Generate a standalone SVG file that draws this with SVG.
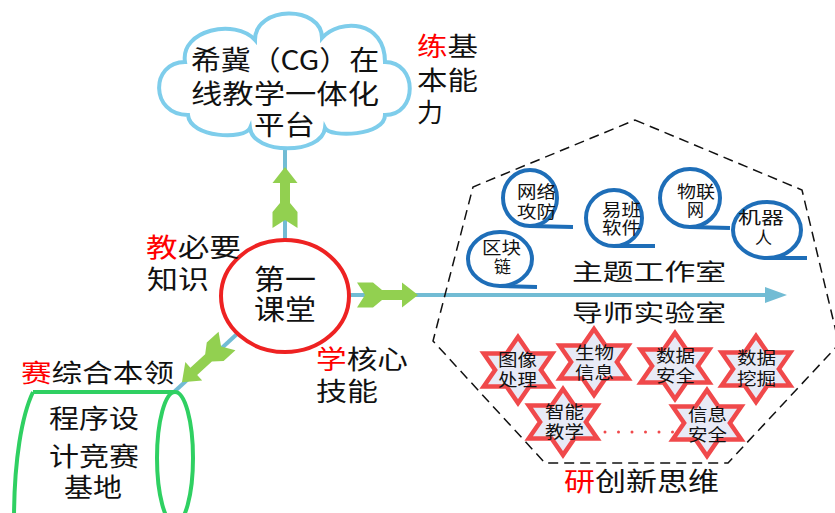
<svg xmlns="http://www.w3.org/2000/svg" xmlns:xlink="http://www.w3.org/1999/xlink" width="835" height="513" viewBox="0 0 835 513">
<defs>
<style>
text{font-family:"Noto Sans CJK SC","Noto Sans",sans-serif;fill:#111;}
.r{fill:#ff0000;}
.line{stroke:#72bcd4;stroke-width:4;fill:none;}
.garrow{fill:#92d050;}
.bub{fill:none;stroke:#1e6eb8;stroke-width:4;}
.star{fill:#e8eaf6;stroke:#f0494b;stroke-width:4.5;stroke-linejoin:miter;}
</style>
<polygon id="star" points="0,-33 11.4,-16.5 34.3,-16.5 22.9,0 34.3,16.5 11.4,16.5 0,33 -11.4,16.5 -34.3,16.5 -22.9,0 -34.3,-16.5 -11.4,-16.5"/>
<path id="ga" d="M61,0 L45,-12.5 L45,-5 L25,-5 L16,-12.5 L0,-12.5 L8,0 L0,12.5 L16,12.5 L25,5 L45,5 L45,12.5 Z"/>
</defs>
<rect width="835" height="513" fill="#ffffff"/>

<g id="connectors">
<line class="line" x1="285" y1="146" x2="285" y2="240"/>
<line class="line" x1="350" y1="295" x2="770" y2="295"/>
<polygon points="787,295 765,287 765,303" fill="#72bcd4"/>
<line class="line" x1="237" y1="334" x2="174" y2="392"/>
<use xlink:href="#ga" class="garrow" transform="translate(285,228) rotate(-90)"/>
<use xlink:href="#ga" class="garrow" transform="translate(357,295)"/>
<use xlink:href="#ga" class="garrow" transform="translate(227,341) rotate(137.6)"/>
<line x1="605" y1="432" x2="675" y2="432" stroke="#f0494b" stroke-width="3" stroke-linecap="round" stroke-dasharray="0 13.5"/>
</g>

<g id="zone">
<polygon points="635,120 802,190 839,344 728,463 545,463 433,341 473,187" fill="none" stroke="#111" stroke-width="1.5" stroke-dasharray="10 6"/>
</g>

<g id="cloud">
<path d="M185,62 C180,30 235,18 255,40 C255,5 322,5 322,38 C340,18 385,20 385,62 C418,62 418,115 385,115 C385,136 330,138 325,128 C322,155 253,155 250,128 C245,140 190,138 188,115 C150,115 150,62 185,62 Z" fill="#ffffff" stroke="#7ecdeb" stroke-width="4"/>
<text x="191" y="70" font-size="27" textLength="188" lengthAdjust="spacingAndGlyphs">希冀（CG）在</text>
<text x="191" y="104" font-size="27" textLength="188" lengthAdjust="spacingAndGlyphs">线教学一体化</text>
<text x="254" y="135" font-size="27" textLength="61" lengthAdjust="spacingAndGlyphs">平台</text>
</g>

<g id="label-lian">
<text x="417" y="56" font-size="26" textLength="61" lengthAdjust="spacingAndGlyphs"><tspan class="r">练</tspan>基</text>
<text x="417" y="90" font-size="26" textLength="61" lengthAdjust="spacingAndGlyphs">本能</text>
<text x="417" y="122" font-size="26">力</text>
</g>

<g id="center">
<ellipse cx="285" cy="296" rx="64" ry="56" fill="#ffffff" stroke="#ee2222" stroke-width="4"/>
<text x="254" y="290" font-size="28" textLength="62" lengthAdjust="spacingAndGlyphs">第一</text>
<text x="254" y="320" font-size="28" textLength="62" lengthAdjust="spacingAndGlyphs">课堂</text>
</g>

<g id="label-jiao">
<text x="146" y="257" font-size="26" textLength="95" lengthAdjust="spacingAndGlyphs"><tspan class="r">教</tspan>必要</text>
<text x="147" y="289" font-size="26" textLength="62" lengthAdjust="spacingAndGlyphs">知识</text>
</g>

<g id="label-xue">
<text x="316" y="369" font-size="26" textLength="92" lengthAdjust="spacingAndGlyphs"><tspan class="r">学</tspan>核心</text>
<text x="316" y="401" font-size="26" textLength="62" lengthAdjust="spacingAndGlyphs">技能</text>
</g>

<g id="label-sai">
<text x="21" y="382" font-size="25" textLength="153" lengthAdjust="spacingAndGlyphs"><tspan class="r">赛</tspan>综合本领</text>
</g>

<g id="barrel">
<path d="M33,392 C22,415 14,460 14,520" fill="none" stroke="#2fd062" stroke-width="4"/>
<line x1="33" y1="392" x2="175" y2="392" stroke="#2fd062" stroke-width="4"/>
<ellipse cx="175" cy="458" rx="18" ry="66" fill="none" stroke="#2fd062" stroke-width="4"/>
<text x="49" y="428" font-size="26" textLength="90" lengthAdjust="spacingAndGlyphs">程序设</text>
<text x="49" y="466" font-size="26" textLength="90" lengthAdjust="spacingAndGlyphs">计竞赛</text>
<text x="64" y="497" font-size="26" textLength="58" lengthAdjust="spacingAndGlyphs">基地</text>
</g>

<g id="b-wangluo">
<ellipse class="bub" cx="530" cy="198" rx="27" ry="28"/>
<line class="bub" x1="530" y1="226" x2="573" y2="227"/>
<text x="517" y="198" font-size="17" textLength="39" lengthAdjust="spacingAndGlyphs">网络</text>
<text x="517" y="218" font-size="17" textLength="39" lengthAdjust="spacingAndGlyphs">攻防</text>
</g>
<g id="b-qukuailian">
<ellipse class="bub" cx="500" cy="259" rx="32" ry="27"/>
<line class="bub" x1="500" y1="286" x2="537" y2="287"/>
<text x="482" y="254" font-size="17" textLength="39" lengthAdjust="spacingAndGlyphs">区块</text>
<text x="494" y="273" font-size="17">链</text>
</g>
<g id="b-yiban">
<ellipse class="bub" cx="614" cy="218" rx="28" ry="28"/>
<line class="bub" x1="614" y1="246" x2="655" y2="246"/>
<text x="602" y="216" font-size="17" textLength="39" lengthAdjust="spacingAndGlyphs">易班</text>
<text x="602" y="234" font-size="17" textLength="39" lengthAdjust="spacingAndGlyphs">软件</text>
</g>
<g id="b-wulianwang">
<ellipse class="bub" cx="690" cy="198" rx="30" ry="29"/>
<line class="bub" x1="690" y1="227" x2="730" y2="228"/>
<text x="677" y="198" font-size="17" textLength="38" lengthAdjust="spacingAndGlyphs">物联</text>
<text x="687" y="216" font-size="17">网</text>
</g>
<g id="b-jiqiren">
<ellipse class="bub" cx="767" cy="230" rx="34" ry="28"/>
<line class="bub" x1="767" y1="258" x2="807" y2="258"/>
<text x="738" y="224" font-size="17" textLength="46" lengthAdjust="spacingAndGlyphs">机器</text>
<text x="755" y="244" font-size="17">人</text>
</g>

<g id="titles">
<text x="572" y="280" font-size="23" textLength="154" lengthAdjust="spacingAndGlyphs">主题工作室</text>
<text x="572" y="321" font-size="23" textLength="154" lengthAdjust="spacingAndGlyphs">导师实验室</text>
<text x="564" y="491" font-size="26" textLength="155" lengthAdjust="spacingAndGlyphs"><tspan class="r">研</tspan>创新思维</text>
</g>

<g id="s-tuxiang">
<use xlink:href="#star" class="star" transform="translate(518,370)"/>
<text x="498" y="366" font-size="17" textLength="39" lengthAdjust="spacingAndGlyphs">图像</text>
<text x="498" y="386" font-size="17" textLength="39" lengthAdjust="spacingAndGlyphs">处理</text>
</g>
<g id="s-shengwu">
<use xlink:href="#star" class="star" transform="translate(594,362)"/>
<text x="575" y="359" font-size="17" textLength="39" lengthAdjust="spacingAndGlyphs">生物</text>
<text x="575" y="379" font-size="17" textLength="39" lengthAdjust="spacingAndGlyphs">信息</text>
</g>
<g id="s-shujuanquan">
<use xlink:href="#star" class="star" transform="translate(675,366)"/>
<text x="656" y="362" font-size="17" textLength="39" lengthAdjust="spacingAndGlyphs">数据</text>
<text x="656" y="382" font-size="17" textLength="39" lengthAdjust="spacingAndGlyphs">安全</text>
</g>
<g id="s-shujuwajue">
<use xlink:href="#star" class="star" transform="translate(756,369)"/>
<text x="737" y="364" font-size="17" textLength="39" lengthAdjust="spacingAndGlyphs">数据</text>
<text x="737" y="385" font-size="17" textLength="39" lengthAdjust="spacingAndGlyphs">挖掘</text>
</g>
<g id="s-zhineng">
<use xlink:href="#star" class="star" transform="translate(563,422)"/>
<text x="545" y="418" font-size="17" textLength="39" lengthAdjust="spacingAndGlyphs">智能</text>
<text x="545" y="438" font-size="17" textLength="39" lengthAdjust="spacingAndGlyphs">教学</text>
</g>
<g id="s-xinxianquan">
<use xlink:href="#star" class="star" transform="translate(707,423)"/>
<text x="688" y="421" font-size="17" textLength="39" lengthAdjust="spacingAndGlyphs">信息</text>
<text x="688" y="441" font-size="17" textLength="39" lengthAdjust="spacingAndGlyphs">安全</text>
</g>
</svg>
